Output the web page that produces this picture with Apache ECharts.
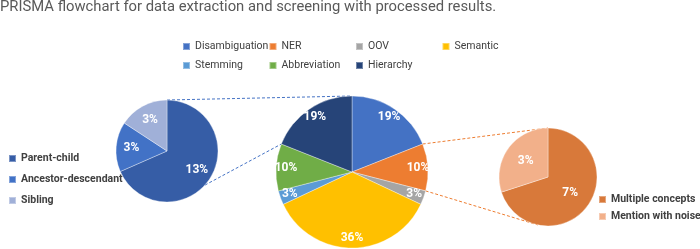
<!DOCTYPE html>
<html>
<head>
<meta charset="utf-8">
<script src="https://cdn.jsdelivr.net/npm/echarts@6/dist/echarts.min.js"></script>
<style>
  html, body { margin: 0; padding: 0; background: #fff; }
  #chart { width: 700px; height: 249px; }
</style>
</head>
<body>
<div id="chart"></div>
<script>
// main pie
var mainNames = ["Disambiguation", "NER", "OOV", "Semantic", "Stemming", "Abbreviation", "Hierarchy"];
var mainValues = [19, 10, 3, 36, 3, 10, 19];
// breakdown of Hierarchy
var hierNames = ["Parent-child", "Ancestor-descendant", "Sibling"];
var hierValues = [13, 3, 3];
// breakdown of NER
var nerNames = ["Multiple concepts", "Mention with noise"];
var nerValues = [7, 3];

var mainColors = ["#4472c4", "#ed7d31", "#a5a5a5", "#ffc000", "#5b9bd5", "#70ad47", "#264478"];
var hierColors = ["#365da6", "#4272c6", "#a0b0d8"];
var nerColors = ["#d8793a", "#f2b08a"];

var mainPie = { c: [352, 172], r: 76 };
var hierPie = { c: [167, 151], r: 51 };
var nerPie = { c: [548, 177], r: 49 };

function toData(names, values) {
  return names.map(function(n, i) { return { name: n, value: values[i] }; });
}
function sum(a) { return a.reduce(function(s, v) { return s + v; }, 0); }
// angle measured clockwise from 12 o'clock
function pt(p, deg) {
  var a = deg * Math.PI / 180;
  return [p.c[0] + p.r * Math.sin(a), p.c[1] - p.r * Math.cos(a)];
}

var total = sum(mainValues);
var hierIdx = mainNames.indexOf("Hierarchy");
var nerIdx = mainNames.indexOf("NER");
var before = function(i) { return sum(mainValues.slice(0, i)) / total * 360; };
var hierStart = before(hierIdx);
var nerStart = before(nerIdx), nerEnd = before(nerIdx + 1);

var connectors = [
  [pt(hierPie, 0), pt(mainPie, 0), "#4472c4"],
  [pt(hierPie, 132), pt(mainPie, hierStart), "#4472c4"],
  [pt(mainPie, nerStart), pt(nerPie, 0), "#ed7d31"],
  [pt(mainPie, nerEnd), pt(nerPie, 192), "#ed7d31"]
];

var labelStyle = {
  show: true,
  position: "inside",
  color: "#fff",
  fontFamily: "Roboto",
  fontWeight: "bold",
  fontSize: 12,
  formatter: "{c}%"
};

function pieSeries(p, names, values, colors) {
  return {
    type: "pie",
    center: p.c,
    radius: [0, p.r],
    startAngle: 90,
    data: toData(names, values),
    color: colors,
    label: { show: false },
    labelLine: { show: false },
    emphasis: { disabled: true },
    itemStyle: { borderColor: "rgba(255,255,255,0.35)", borderWidth: 1 }
  };
}
// transparent ring used only to push labels outward
function labelRing(p, names, values, inner) {
  return {
    type: "pie",
    center: p.c,
    radius: [p.r * inner, p.r],
    startAngle: 90,
    silent: true,
    data: toData(names, values),
    itemStyle: { color: "transparent" },
    label: labelStyle,
    labelLine: { show: false },
    emphasis: { disabled: true },
    legendHoverLink: false
  };
}

var legendText = { color: "#404040", fontFamily: "Roboto", fontSize: 10.5 };
var legendBold = { color: "#404040", fontFamily: "Roboto", fontSize: 10.5, fontWeight: "bold" };

// top legend laid out as a 4-column grid, one legend per cell
var topLegends = mainNames.map(function(n, i) {
  return {
    data: [n],
    left: 182 + (i % 4) * 86.5,
    top: 41 + Math.floor(i / 4) * 19,
    padding: 0,
    icon: "rect", itemWidth: 7, itemHeight: 7,
    textStyle: legendText
  };
});

var option = {
  animation: false,
  title: {
    text: "PRISMA flowchart for data extraction and screening with processed results.",
    left: 0,
    top: 0,
    padding: 0,
    textStyle: { color: "#595959", fontFamily: "Roboto", fontSize: 14.8, fontWeight: "normal" }
  },
  legend: topLegends.concat([
    {
      data: hierNames,
      orient: "vertical",
      left: 8, top: 153, padding: 0,
      icon: "rect", itemWidth: 7, itemHeight: 7, itemGap: 10,
      textStyle: legendBold
    },
    {
      data: nerNames,
      orient: "vertical",
      left: 598, top: 194, padding: 0,
      icon: "rect", itemWidth: 7, itemHeight: 7, itemGap: 6,
      textStyle: legendBold
    }
  ]),
  graphic: connectors.map(function(c) {
    return {
      type: "line",
      silent: true,
      z: 1,
      shape: { x1: c[0][0], y1: c[0][1], x2: c[1][0], y2: c[1][1] },
      style: { stroke: c[2], lineWidth: 1, lineDash: [3, 2] }
    };
  }),
  series: [
    pieSeries(mainPie, mainNames, mainValues, mainColors),
    pieSeries(hierPie, hierNames, hierValues, hierColors),
    pieSeries(nerPie, nerNames, nerValues, nerColors),
    labelRing(mainPie, mainNames, mainValues, 0.66),
    labelRing(hierPie, hierNames, hierValues, 0.28),
    labelRing(nerPie, nerNames, nerValues, 0)
  ]
};

var myChart = echarts.init(document.getElementById("chart"));
myChart.setOption(option);
</script>
</body>
</html>
